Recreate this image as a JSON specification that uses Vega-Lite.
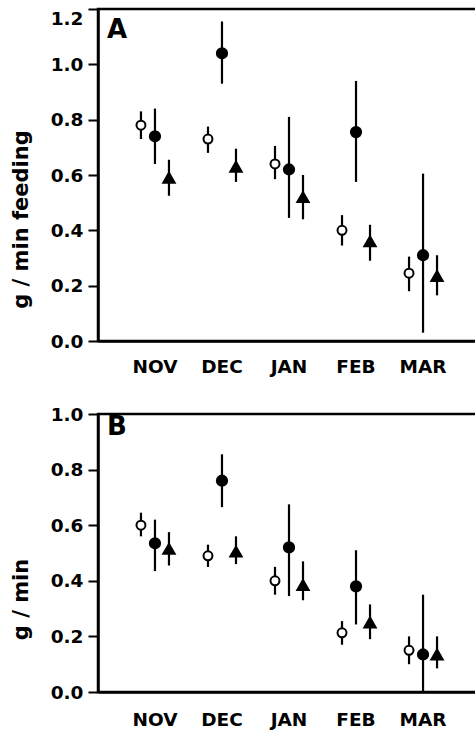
{
  "$schema": "https://vega.github.io/schema/vega-lite/v6.json",
  "padding": {"left": 8, "top": 6, "right": 0, "bottom": 0},
  "spacing": 26,
  "config": {
    "font": "DejaVu Sans",
    "view": {"stroke": "black", "strokeWidth": 2.5},
    "axis": {
      "labelFont": "DejaVu Sans", "labelFontWeight": "bold", "labelFontSize": 18.5, "labelColor": "black",
      "titleFont": "DejaVu Sans", "titleFontSize": 21, "titleFontWeight": "bold", "titleColor": "black",
      "domainColor": "black", "domainWidth": 2.5, "tickColor": "black", "tickWidth": 2, "grid": false
    },
    "title": {"font": "DejaVu Sans", "fontSize": 26, "fontWeight": "bold", "color": "black"}
  },
  "data": {"values": [
    {"panel": "A", "month": "NOV", "series": "open", "value": 0.78, "lo": 0.73, "hi": 0.83},
    {"panel": "A", "month": "NOV", "series": "filled", "value": 0.74, "lo": 0.64, "hi": 0.84},
    {"panel": "A", "month": "NOV", "series": "tri", "value": 0.59, "lo": 0.525, "hi": 0.655},
    {"panel": "A", "month": "DEC", "series": "open", "value": 0.73, "lo": 0.68, "hi": 0.775},
    {"panel": "A", "month": "DEC", "series": "filled", "value": 1.04, "lo": 0.93, "hi": 1.155},
    {"panel": "A", "month": "DEC", "series": "tri", "value": 0.63, "lo": 0.575, "hi": 0.695},
    {"panel": "A", "month": "JAN", "series": "open", "value": 0.64, "lo": 0.585, "hi": 0.705},
    {"panel": "A", "month": "JAN", "series": "filled", "value": 0.62, "lo": 0.445, "hi": 0.81},
    {"panel": "A", "month": "JAN", "series": "tri", "value": 0.52, "lo": 0.44, "hi": 0.60},
    {"panel": "A", "month": "FEB", "series": "open", "value": 0.40, "lo": 0.345, "hi": 0.455},
    {"panel": "A", "month": "FEB", "series": "filled", "value": 0.755, "lo": 0.575, "hi": 0.94},
    {"panel": "A", "month": "FEB", "series": "tri", "value": 0.36, "lo": 0.29, "hi": 0.42},
    {"panel": "A", "month": "MAR", "series": "open", "value": 0.245, "lo": 0.18, "hi": 0.305},
    {"panel": "A", "month": "MAR", "series": "filled", "value": 0.31, "lo": 0.03, "hi": 0.605},
    {"panel": "A", "month": "MAR", "series": "tri", "value": 0.235, "lo": 0.165, "hi": 0.31},
    {"panel": "B", "month": "NOV", "series": "open", "value": 0.60, "lo": 0.56, "hi": 0.645},
    {"panel": "B", "month": "NOV", "series": "filled", "value": 0.535, "lo": 0.435, "hi": 0.62},
    {"panel": "B", "month": "NOV", "series": "tri", "value": 0.515, "lo": 0.455, "hi": 0.575},
    {"panel": "B", "month": "DEC", "series": "open", "value": 0.49, "lo": 0.45, "hi": 0.53},
    {"panel": "B", "month": "DEC", "series": "filled", "value": 0.76, "lo": 0.665, "hi": 0.855},
    {"panel": "B", "month": "DEC", "series": "tri", "value": 0.505, "lo": 0.46, "hi": 0.56},
    {"panel": "B", "month": "JAN", "series": "open", "value": 0.40, "lo": 0.35, "hi": 0.45},
    {"panel": "B", "month": "JAN", "series": "filled", "value": 0.52, "lo": 0.345, "hi": 0.675},
    {"panel": "B", "month": "JAN", "series": "tri", "value": 0.385, "lo": 0.33, "hi": 0.47},
    {"panel": "B", "month": "FEB", "series": "open", "value": 0.213, "lo": 0.17, "hi": 0.255},
    {"panel": "B", "month": "FEB", "series": "filled", "value": 0.38, "lo": 0.243, "hi": 0.51},
    {"panel": "B", "month": "FEB", "series": "tri", "value": 0.25, "lo": 0.19, "hi": 0.315},
    {"panel": "B", "month": "MAR", "series": "open", "value": 0.15, "lo": 0.10, "hi": 0.20},
    {"panel": "B", "month": "MAR", "series": "filled", "value": 0.135, "lo": 0.0, "hi": 0.35},
    {"panel": "B", "month": "MAR", "series": "tri", "value": 0.135, "lo": 0.085, "hi": 0.20}
  ]},
  "vconcat": [
    {
      "width": 382, "height": 332,
      "title": {"text": "A", "anchor": "start", "frame": "group", "offset": -35, "dx": 9},
      "transform": [{"filter": "datum.panel == 'A'"}],
      "encoding": {
        "x": {"field": "month", "type": "nominal", "sort": ["NOV", "DEC", "JAN", "FEB", "MAR"],
              "scale": {"paddingInner": 0, "paddingOuter": 0.35},
              "axis": {"title": null, "labelAngle": 0, "ticks": false, "labelPadding": 16}},
        "xOffset": {"field": "series", "type": "nominal", "sort": ["open", "filled", "tri"],
                    "scale": {"paddingInner": 0, "paddingOuter": 0.893}}
      },
      "layer": [
        {
          "mark": {"type": "rule", "strokeWidth": 2.2, "color": "black"},
          "encoding": {
            "y": {"field": "lo", "type": "quantitative", "scale": {"domain": [0, 1.2]},
                  "axis": {"values": [0, 0.2, 0.4, 0.6, 0.8, 1.0, 1.2], "format": ".1f", "tickSize": 10,
                           "labelPadding": 5, "title": "g / min feeding", "titlePadding": 19, "titleY": 210,
                           "labelOffset": {"condition": {"test": "datum.value > 1.1", "value": 9}, "value": 0}}},
            "y2": {"field": "hi"}
          }
        },
        {
          "mark": {"type": "point", "filled": true, "opacity": 1, "stroke": "black", "strokeWidth": 2},
          "encoding": {
            "y": {"field": "value", "type": "quantitative"},
            "shape": {"field": "series", "scale": {"domain": ["open", "filled", "tri"], "range": ["circle", "circle", "triangle-up"]}, "legend": null},
            "fill": {"field": "series", "scale": {"domain": ["open", "filled", "tri"], "range": ["white", "black", "black"]}, "legend": null},
            "size": {"field": "series", "scale": {"domain": ["open", "filled", "tri"], "range": [80, 130, 110]}, "legend": null}
          }
        }
      ]
    },
    {
      "width": 382, "height": 278,
      "title": {"text": "B", "anchor": "start", "frame": "group", "offset": -35, "dx": 9},
      "transform": [{"filter": "datum.panel == 'B'"}],
      "encoding": {
        "x": {"field": "month", "type": "nominal", "sort": ["NOV", "DEC", "JAN", "FEB", "MAR"],
              "scale": {"paddingInner": 0, "paddingOuter": 0.35},
              "axis": {"title": null, "labelAngle": 0, "ticks": false, "labelPadding": 18}},
        "xOffset": {"field": "series", "type": "nominal", "sort": ["open", "filled", "tri"],
                    "scale": {"paddingInner": 0, "paddingOuter": 0.893}}
      },
      "layer": [
        {
          "mark": {"type": "rule", "strokeWidth": 2.2, "color": "black"},
          "encoding": {
            "y": {"field": "lo", "type": "quantitative", "scale": {"domain": [0, 1.0]},
                  "axis": {"values": [0, 0.2, 0.4, 0.6, 0.8, 1.0], "format": ".1f", "tickSize": 10,
                           "labelPadding": 5, "title": "g / min", "titlePadding": 19, "titleY": 185}},
            "y2": {"field": "hi"}
          }
        },
        {
          "mark": {"type": "point", "filled": true, "opacity": 1, "stroke": "black", "strokeWidth": 2},
          "encoding": {
            "y": {"field": "value", "type": "quantitative"},
            "shape": {"field": "series", "scale": {"domain": ["open", "filled", "tri"], "range": ["circle", "circle", "triangle-up"]}, "legend": null},
            "fill": {"field": "series", "scale": {"domain": ["open", "filled", "tri"], "range": ["white", "black", "black"]}, "legend": null},
            "size": {"field": "series", "scale": {"domain": ["open", "filled", "tri"], "range": [80, 130, 110]}, "legend": null}
          }
        }
      ]
    }
  ]
}
